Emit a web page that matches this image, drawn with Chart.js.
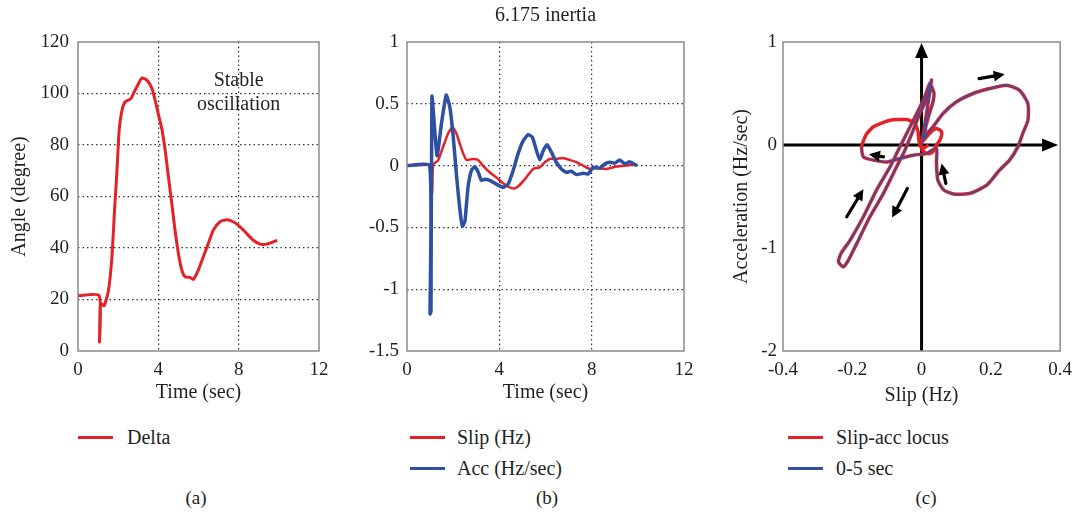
<!DOCTYPE html>
<html>
<head>
<meta charset="utf-8">
<script src="https://cdn.jsdelivr.net/npm/chart.js@4.4.1/dist/chart.umd.min.js"></script>
<style>
  body { margin: 0; background: #fff; width: 1080px; height: 515px; position: relative; overflow: hidden;
         font-family: "Liberation Serif", "Times New Roman", serif; color: #231f20; }
  canvas { position: absolute; top: 0; }
  .leg { position: absolute; height: 22px; font-size: 20px; line-height: 22px; white-space: nowrap; }
  .leg i { position: absolute; left: 0; top: 10px; width: 35px; height: 3px; }
  .leg span { position: absolute; top: 0; }
  .cap { position: absolute; top: 487px; font-size: 19px; transform: translateX(-50%); }
</style>
</head>
<body>
<canvas id="ca" width="340" height="420" style="left:0"></canvas>
<canvas id="cb" width="375" height="420" style="left:340px"></canvas>
<canvas id="cc" width="365" height="420" style="left:715px"></canvas>

<div class="leg" style="left:78px;top:426px"><i style="background:#e42127"></i><span style="left:49px">Delta</span></div>
<div class="leg" style="left:410px;top:426px"><i style="background:#e42127"></i><span style="left:47px">Slip (Hz)</span></div>
<div class="leg" style="left:410px;top:457px"><i style="background:#2f4fa2"></i><span style="left:47px">Acc (Hz/sec)</span></div>
<div class="leg" style="left:788px;top:426px"><i style="background:#e42127"></i><span style="left:48px">Slip-acc locus</span></div>
<div class="leg" style="left:788px;top:457px"><i style="background:#2f4fa2"></i><span style="left:48px">0-5 sec</span></div>
<div class="cap" style="left:196px">(a)</div>
<div class="cap" style="left:547px">(b)</div>
<div class="cap" style="left:926px">(c)</div>

<script>
// (a) rotor angle
const deltaTime  = [0, 1.05, 1.07, 1.12, 1.3, 1.52, 1.69, 1.82, 1.94, 2.05, 2.19, 2.35, 2.63, 2.76, 2.96, 3.18, 3.43, 3.68, 3.84, 4.0, 4.17, 4.34, 4.5, 4.67, 4.83, 5.0, 5.17, 5.33, 5.58, 5.75, 5.99, 6.24, 6.49, 6.74, 7.07, 7.4, 7.73, 8.06, 8.39, 8.73, 9.06, 9.39, 9.72, 9.92];
const deltaAngle = [21.5, 21.5, 3.5, 18.5, 17.6, 23.7, 36.6, 54.7, 70, 85.8, 93.5, 96.8, 98, 100, 103, 106, 105.2, 102, 97.4, 92, 86.4, 78, 67.7, 57.3, 47, 37.9, 31.4, 28.8, 28.6, 27.8, 31.4, 36.6, 41.8, 47, 50.2, 51, 50.2, 48.3, 45.7, 43, 41.5, 41.5, 42.4, 43];

// (b) slip and acceleration
const slipTime   = [0, 1.05, 1.09, 1.13, 1.34, 1.56, 1.78, 1.97, 2.14, 2.36, 2.57, 2.86, 3.08, 3.29, 3.58, 3.87, 4.16, 4.45, 4.67, 4.88, 5.17, 5.46, 5.75, 5.97, 6.18, 6.47, 6.76, 7.05, 7.34, 7.63, 7.92, 8.21, 8.64, 9.08, 9.5, 9.94];
const slipValues = [0, 0, -0.23, 0.01, 0.04, 0.15, 0.26, 0.31, 0.26, 0.135, 0.046, 0.054, 0.046, 0, -0.054, -0.095, -0.143, -0.176, -0.184, -0.157, -0.095, -0.027, -0.014, 0.027, 0.054, 0.054, 0.062, 0.046, 0.027, 0, -0.027, -0.02, -0.027, -0.008, 0, 0.008];
const accTime    = [0, 0.98, 1.0, 1.04, 1.08, 1.3, 1.5, 1.7, 1.85, 1.99, 2.14, 2.28, 2.4, 2.51, 2.64, 2.79, 2.93, 3.08, 3.22, 3.37, 3.58, 3.87, 4.16, 4.38, 4.6, 4.81, 5.03, 5.25, 5.43, 5.61, 5.75, 5.9, 6.07, 6.26, 6.47, 6.69, 6.91, 7.12, 7.34, 7.63, 7.85, 8.06, 8.35, 8.57, 8.79, 9.0, 9.22, 9.44, 9.65, 9.87, 9.97];
const accValues  = [0, 0, -1.2, -1.18, 0.56, 0.08, 0.35, 0.57, 0.48, 0.26, -0.07, -0.34, -0.49, -0.45, -0.18, -0.04, -0.01, -0.05, -0.12, -0.11, -0.12, -0.15, -0.176, -0.15, -0.04, 0.095, 0.2, 0.25, 0.23, 0.12, 0.046, 0.12, 0.168, 0.108, 0.027, -0.027, -0.054, -0.046, -0.073, -0.062, -0.068, -0.014, -0.02, 0.014, 0.027, 0.02, 0.046, 0.014, 0.032, 0.008, 0];

// (c) slip-acceleration locus, in time order
const locusSlip = [0, 0.029,
  0.018, -0.005, -0.024, -0.048, -0.072, -0.11, -0.149, -0.187, -0.211, -0.226, -0.24,
  -0.232, -0.206, -0.168, -0.13, -0.091, -0.072, -0.043, -0.014, 0.009, 0.024,
  0.03, 0.036, 0.033, 0.022, 0.012, 0.008,
  0.018, 0.033, 0.062, 0.1, 0.149, 0.197, 0.245, 0.283, 0.307, 0.307, 0.292, 0.278, 0.254, 0.225, 0.189, 0.141, 0.093, 0.064, 0.047, 0.043, 0.043,
  0.014, -0.024, -0.062, -0.1, -0.139, -0.168, -0.173,
  -0.16, -0.139, -0.091, -0.043, -0.019, -0.01, -0.007, 0.005, 0.02, 0.033, 0.043, 0.053, 0.058, 0.043, 0.025, 0.01, -0.005, 0.005, 0.02];
const locusAcc = [0, 0.63,
  0.47, 0.306, 0.144, -0.05, -0.212, -0.47, -0.697, -0.955, -1.117, -1.182, -1.134,
  -1.05, -0.923, -0.697, -0.438, -0.212, -0.083, 0.112, 0.306, 0.467, 0.6,
  0.56, 0.5, 0.42, 0.3, 0.17, 0.06,
  0.12, 0.176, 0.306, 0.418, 0.5, 0.548, 0.58, 0.531, 0.402, 0.24, 0.111, -0.018, -0.147, -0.244, -0.388, -0.469, -0.476, -0.437, -0.34, -0.178, -0.03,
  -0.083, -0.099, -0.131, -0.164, -0.147, -0.115, -0.018,
  0.1, 0.176, 0.24, 0.247, 0.208, 0.127, 0.03, -0.06, -0.085, -0.067, 0, 0.047, 0.127, 0.16, 0.12, 0.06, 0, -0.03, 0];
const firstFiveSec = 57; // points of the locus inside 0-5 sec

// tick labels
const timeTicks  = [0, 4, 8, 12];
const angleTicks = [0, 20, 40, 60, 80, 100, 120];
const slipTicks  = [-1.5, -1, -0.5, 0, 0.5, 1];
const locusXTicks = [-0.4, -0.2, 0, 0.2, 0.4];
const locusYTicks = [-2, -1, 0, 1];

const RED = '#e42127', BLUE = '#2f4fa2';

Chart.defaults.font.family = '"Liberation Serif", "Times New Roman", serif';
Chart.defaults.font.size = 19;
Chart.defaults.color = '#231f20';
Chart.defaults.animation = false;

const pts = (xs, ys) => xs.map((x, i) => ({x: x, y: ys[i]}));

function scale(min, max, ticks, size, title, titlePad, grid, tickPad) {
  return {
    type: 'linear', min: min, max: max,
    afterBuildTicks: s => { s.ticks = ticks.map(v => ({value: v})); },
    afterFit: s => { if (s.isHorizontal()) s.height = size; else s.width = size; },
    ticks: {autoSkip: false, maxRotation: 0, padding: tickPad, callback: v => String(v)},
    grid: {
      display: grid, drawTicks: false, lineWidth: 1.2,
      color: c => (c.tick && (c.tick.value === min || c.tick.value === max)) ? 'rgba(0,0,0,0)' : '#333'
    },
    border: {display: false, dash: [1.5, 3]},
    title: {display: !!title, text: title, font: {size: 20}, padding: titlePad}
  };
}

const frame = {
  id: 'frame',
  afterDraw(chart) {
    const {ctx, chartArea: a} = chart;
    ctx.save();
    ctx.strokeStyle = '#8a8a8a';
    ctx.lineWidth = 1.5;
    ctx.strokeRect(a.left, a.top, a.right - a.left, a.bottom - a.top);
    ctx.restore();
  }
};

const stableNote = {
  id: 'stableNote',
  afterDatasetsDraw(chart) {
    const {ctx, scales: {x, y}} = chart;
    ctx.save();
    ctx.font = '20px "Liberation Serif", serif';
    ctx.fillStyle = '#231f20';
    ctx.textAlign = 'center';
    ctx.textBaseline = 'middle';
    ctx.fillText('Stable', x.getPixelForValue(8), y.getPixelForValue(105));
    ctx.fillText('oscillation', x.getPixelForValue(8), y.getPixelForValue(95.5));
    ctx.restore();
  }
};

function arrowHead(ctx, x, y, ang, len, half) {
  ctx.beginPath();
  ctx.moveTo(x, y);
  ctx.lineTo(x - len * Math.cos(ang) + half * Math.sin(ang), y - len * Math.sin(ang) - half * Math.cos(ang));
  ctx.lineTo(x - len * Math.cos(ang) - half * Math.sin(ang), y - len * Math.sin(ang) + half * Math.cos(ang));
  ctx.closePath();
  ctx.fill();
}

// direction markers on the locus, in data units
const turnArrows = [
  [[0.166, 0.645], [0.24, 0.687]],
  [[-0.11, -0.115], [-0.152, -0.09]],
  [[0.07, -0.373], [0.058, -0.18]],
  [[-0.216, -0.697], [-0.168, -0.43]],
  [[-0.041, -0.422], [-0.085, -0.705]]
];

const locusAxes = {
  id: 'locusAxes',
  beforeDatasetsDraw(chart) {
    const {ctx, chartArea: a, scales: {x, y}} = chart;
    const x0 = x.getPixelForValue(0), y0 = y.getPixelForValue(0);
    ctx.save();
    ctx.strokeStyle = ctx.fillStyle = '#000';
    ctx.lineWidth = 3;
    ctx.beginPath();
    ctx.moveTo(x0, a.bottom); ctx.lineTo(x0, a.top + 12);
    ctx.moveTo(a.left, y0); ctx.lineTo(a.right - 14, y0);
    ctx.stroke();
    arrowHead(ctx, x0, a.top + 1, -Math.PI / 2, 15, 6.5);
    arrowHead(ctx, a.right - 2, y0, 0, 16, 6.5);
    ctx.restore();
  },
  afterDatasetsDraw(chart) {
    const {ctx, scales: {x, y}} = chart;
    ctx.save();
    ctx.strokeStyle = ctx.fillStyle = '#000';
    ctx.lineWidth = 3.2;
    ctx.lineCap = 'round';
    turnArrows.forEach(([p, q]) => {
      const x1 = x.getPixelForValue(p[0]), y1 = y.getPixelForValue(p[1]);
      const x2 = x.getPixelForValue(q[0]), y2 = y.getPixelForValue(q[1]);
      const ang = Math.atan2(y2 - y1, x2 - x1);
      ctx.beginPath();
      ctx.moveTo(x1, y1);
      ctx.lineTo(x2 - 7 * Math.cos(ang), y2 - 7 * Math.sin(ang));
      ctx.stroke();
      arrowHead(ctx, x2, y2, ang, 11, 5.5);
    });
    ctx.restore();
  }
};

new Chart(document.getElementById('ca'), {
  type: 'line',
  data: {
    datasets: [
      {label: 'Delta', data: pts(deltaTime, deltaAngle), borderColor: RED, borderWidth: 3, pointRadius: 0, tension: 0.2}
    ]
  },
  options: {
    responsive: false,
    layout: {padding: {left: 0, right: 21, top: 42, bottom: 0}},
    plugins: {legend: {display: false}, tooltip: {enabled: false}},
    scales: {
      x: scale(0, 12, timeTicks, 69, 'Time (sec)', {top: 0, bottom: 15}, true, 8),
      y: scale(0, 120, angleTicks, 78, 'Angle (degree)', {top: 8, bottom: 0}, true, 9)
    }
  },
  plugins: [frame, stableNote]
});

new Chart(document.getElementById('cb'), {
  type: 'line',
  data: {
    datasets: [
      {label: 'Slip (Hz)', data: pts(slipTime, slipValues), borderColor: RED, borderWidth: 2.5, pointRadius: 0, tension: 0.15, order: 1},
      {label: 'Acc (Hz/sec)', data: pts(accTime, accValues), borderColor: BLUE, borderWidth: 3.5, pointRadius: 0, tension: 0.15, order: 0}
    ]
  },
  options: {
    responsive: false,
    layout: {padding: {left: 0, right: 31, top: 0, bottom: 0}},
    plugins: {
      legend: {display: false}, tooltip: {enabled: false},
      title: {display: true, text: '6.175 inertia', fullSize: false, font: {size: 20, weight: 'normal'}, padding: {top: 4, bottom: 14}}
    },
    scales: {
      x: scale(0, 12, timeTicks, 69, 'Time (sec)', {top: 0, bottom: 15}, true, 8),
      y: scale(-1.5, 1, slipTicks, 67, '', 0, true, 8)
    }
  },
  plugins: [frame]
});

new Chart(document.getElementById('cc'), {
  type: 'line',
  data: {
    datasets: [
      {label: 'Slip-acc locus', data: pts(locusSlip, locusAcc), borderColor: RED, borderWidth: 3.5, pointRadius: 0, tension: 0.2, order: 1},
      {label: '0-5 sec', data: pts(locusSlip.slice(0, firstFiveSec), locusAcc.slice(0, firstFiveSec)), borderColor: BLUE, borderWidth: 1.4, pointRadius: 0, tension: 0.2, order: 0}
    ]
  },
  options: {
    responsive: false,
    layout: {padding: {left: 0, right: 19, top: 42, bottom: 0}},
    plugins: {legend: {display: false}, tooltip: {enabled: false}},
    scales: {
      x: scale(-0.4, 0.4, locusXTicks, 69, 'Slip (Hz)', {top: 0, bottom: 12}, false, 8),
      y: scale(-2, 1, locusYTicks, 68, 'Acceleration (Hz/sec)', {top: 15, bottom: 0}, false, 6)
    }
  },
  plugins: [frame, locusAxes]
});
</script>
</body>
</html>
